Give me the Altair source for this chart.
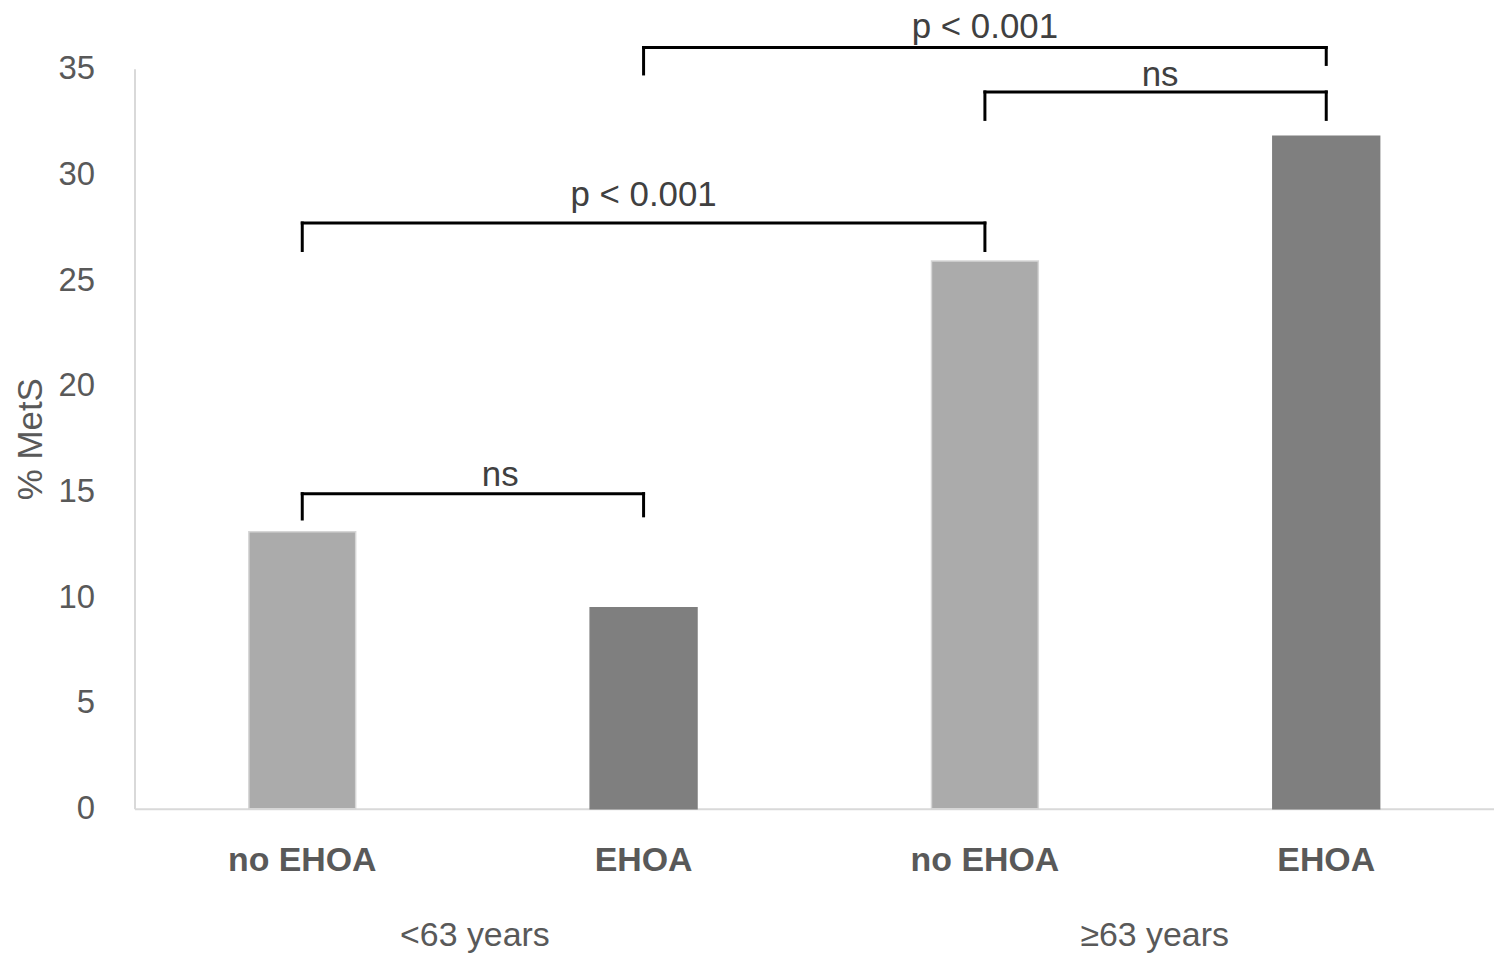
import altair as alt
import pandas as pd

# ---- data ----
categories = ["no EHOA", "EHOA", "no EHOA", "EHOA"]
groups = ["<63 years", "<63 years", "≥63 years", "≥63 years"]
values = [13.1, 9.5, 25.9, 31.8]
bar_style = ["pattern", "solid", "pattern", "solid"]
group_names = ["<63 years", "≥63 years"]

keys = [f"{c}|{g}" for c, g in zip(categories, groups)]

# significance brackets: left bar, right bar, bracket level, left leg end, right leg end
br_left = [keys[0], keys[0], keys[2], keys[1]]
br_right = [keys[1], keys[2], keys[3], keys[3]]
br_level = [14.9, 27.7, 33.9, 36.0]
br_left_end = [13.7, 26.4, 32.6, 34.75]
br_right_end = [13.85, 26.4, 32.6, 35.2]

# "ns" labels sit between two neighbouring bars (over the age group), p-labels over a middle bar
ns_group = group_names
ns_y = [15.8, 34.7]
p_anchor = [keys[1], keys[2]]
p_y = [28.5, 36.45]   # text baselines

bars = pd.DataFrame({"key": keys, "value": values, "style": bar_style})
brackets = pd.DataFrame({"left": br_left, "right": br_right, "level": br_level,
                         "lend": br_left_end, "rend": br_right_end})
ns_df = pd.DataFrame({"group": ns_group, "y": ns_y, "t": ["ns", "ns"]})
p_df = pd.DataFrame({"key": p_anchor, "y": p_y, "t": ["p < 0.001", "p < 0.001"]})
grp_df = pd.DataFrame({"group": group_names})

FONT = "Liberation Sans"
GREY = "#595959"

xscale = alt.Scale(domain=keys, paddingInner=0.687, paddingOuter=0.335, round=False)
gscale = alt.Scale(domain=group_names, paddingInner=0, paddingOuter=0, round=False)
yscale = alt.Scale(domain=[0, 35], nice=False, zero=True)

xaxis = alt.Axis(title=None, labelExpr="split(datum.label, '|')[0]", ticks=False,
                 domainColor="#d9d9d9", domainWidth=2, labelPadding=35, labelAngle=0,
                 labelOverlap=False, labelLimit=0,
                 labelFontSize=34, labelFontWeight="bold", labelColor=GREY,
                 labelFont=FONT, grid=False)
yaxis = alt.Axis(title="% MetS", values=[0, 5, 10, 15, 20, 25, 30, 35], ticks=False,
                 domainColor="#d9d9d9", domainWidth=2, labelPadding=40,
                 labelFontSize=33, labelColor=GREY, labelFont=FONT, grid=False,
                 titleFontSize=35, titleFontWeight="normal", titleColor=GREY,
                 titleFont=FONT, titlePadding=10)

bar_layer = alt.Chart(bars).mark_bar(strokeWidth=1.5).encode(
    x=alt.X("key:N", scale=xscale, axis=xaxis, sort=keys),
    y=alt.Y("value:Q", scale=yscale, axis=yaxis),
    fill=alt.Color("style:N", scale=alt.Scale(domain=["pattern", "solid"],
                                               range=["#ababab", "#7f7f7f"]), legend=None),
    stroke=alt.Stroke("style:N", scale=alt.Scale(domain=["pattern", "solid"],
                                                  range=["#d6d6d6", "#7f7f7f"]), legend=None),
)

rule_kw = dict(color="black", strokeWidth=3, strokeCap="square")
hrule = alt.Chart(brackets).mark_rule(**rule_kw).encode(
    x=alt.X("left:N", scale=xscale, sort=keys, bandPosition=0.5),
    x2="right:N",
    y=alt.Y("level:Q", scale=yscale),
)
lleg = alt.Chart(brackets).mark_rule(**rule_kw).encode(
    x=alt.X("left:N", scale=xscale, sort=keys, bandPosition=0.5),
    y=alt.Y("lend:Q", scale=yscale),
    y2="level:Q",
)
rleg = alt.Chart(brackets).mark_rule(**rule_kw).encode(
    x=alt.X("right:N", scale=xscale, sort=keys, bandPosition=0.5),
    y=alt.Y("rend:Q", scale=yscale),
    y2="level:Q",
)
p_text = alt.Chart(p_df).mark_text(font=FONT, fontSize=35, color="#404040",
                                   baseline="alphabetic").encode(
    x=alt.X("key:N", scale=xscale, sort=keys, bandPosition=0.5),
    y=alt.Y("y:Q", scale=yscale),
    text="t:N",
)

main = alt.layer(bar_layer, hrule, lleg, rleg, p_text)

grp_axis = alt.Axis(title=None, orient="bottom", domain=False, ticks=False, labelAngle=0,
                    labelPadding=110, labelFontSize=34, labelColor=GREY,
                    labelFont=FONT, grid=False, labelOverlap=False, labelLimit=0)
grp_layer = alt.Chart(grp_df).mark_point(opacity=0).encode(
    x=alt.X("group:N", sort=group_names, scale=gscale, axis=grp_axis),
    y=alt.datum(0, scale=yscale),
)
ns_base = alt.Chart(ns_df).encode(
    x=alt.X("group:N", sort=group_names, scale=gscale),
    y=alt.Y("y:Q", scale=yscale),
    text="t:N",
)
ns_low = ns_base.transform_filter(alt.datum.group == group_names[0]).mark_text(
    font=FONT, fontSize=35, color="#404040", baseline="middle", dx=26)
ns_high = ns_base.transform_filter(alt.datum.group == group_names[1]).mark_text(
    font=FONT, fontSize=35, color="#404040", baseline="middle", dx=6)

groups_layer = alt.layer(grp_layer, ns_low, ns_high)

chart = alt.layer(main, groups_layer).resolve_scale(x="independent").properties(
    width=1365, height=743,
    autosize=alt.AutoSizeParams(type="none"),
    padding={"left": 127, "top": 59, "right": 0, "bottom": 144},
).configure_view(stroke=None)

chart.save("out.html", embed_options={"renderer": "svg", "actions": False})
